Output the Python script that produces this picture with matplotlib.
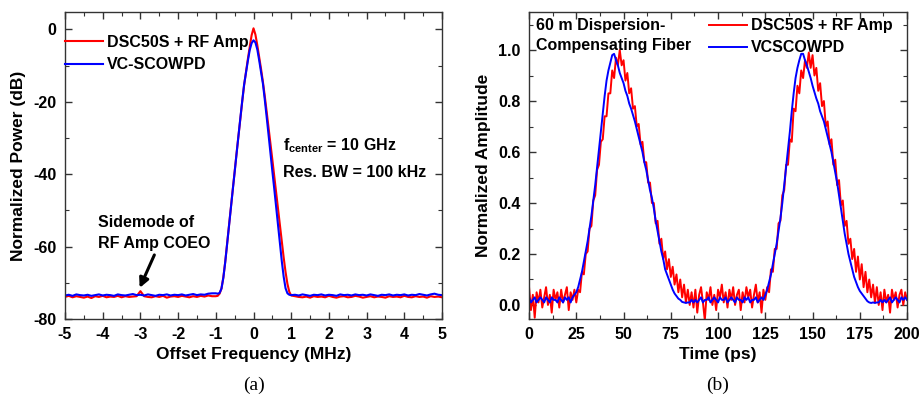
import numpy as np
import matplotlib
matplotlib.use("Agg")
import matplotlib.pyplot as plt
from matplotlib.ticker import MultipleLocator, FormatStrFormatter

plt.rcParams['font.family'] = ['Liberation Sans', 'DejaVu Sans']
plt.rcParams['font.weight'] = 'bold'
plt.rcParams['axes.unicode_minus'] = False
plt.rcParams['mathtext.fontset'] = 'custom'
plt.rcParams['mathtext.bf'] = 'Liberation Sans:bold'
plt.rcParams['mathtext.rm'] = 'Liberation Sans:bold'

RED = '#ff0000'
BLUE = '#0000ff'

# ---- (a) RF spectrum ----
freq_left = np.round(np.arange(-5.0, -1.05, 0.1), 2)      # -5.0 .. -1.1
freq_mid = np.round(np.arange(-1.0, 1.001, 0.05), 2)      # -1.0 .. 1.0
freq_right = np.round(np.arange(1.1, 5.001, 0.1), 2)      # 1.1 .. 5.0
freq = np.concatenate([freq_left, freq_mid, freq_right])

dsc_floor_left = [
    -73.9, -73.6, -74.0, -73.7, -73.9, -74.1, -73.8, -74.2, -73.7, -73.9,
    -73.6, -74.0, -73.8, -73.9, -73.6, -74.0, -73.7, -73.9, -73.8, -73.7,
    -72.3, -73.7, -73.9, -74.0, -73.7, -73.9, -73.6, -74.1, -73.8, -73.7,
    -73.9, -73.6, -73.8, -74.0, -73.7, -73.9, -73.6, -73.8, -73.5, -73.7,
]
dsc_peak = [
    -73.7, -73.6, -73.0, -71.6, -68.5, -64.2, -59.2, -54.2, -49.2, -44.2,
    -39.3, -34.3, -29.5, -24.8, -20.0, -15.5, -11.8, -8.2, -4.8, -1.6,
    0.3,
    -1.4, -4.3, -7.6, -10.9, -14.5, -18.5, -22.8, -27.2, -31.6, -36.0,
    -40.5, -45.0, -49.5, -54.0, -58.5, -63.0, -67.0, -70.3, -72.5, -73.5,
]
dsc_floor_right = [
    -73.7, -73.9, -74.0, -73.8, -74.1, -73.7, -73.9, -73.8, -74.0, -73.6,
    -73.9, -74.1, -73.8, -73.7, -74.0, -73.9, -73.6, -73.8, -74.1, -73.9,
    -73.7, -74.0, -73.8, -73.9, -74.1, -73.7, -73.9, -73.8, -74.0, -73.6,
    -73.9, -74.0, -73.7, -73.9, -73.8, -74.1, -73.7, -73.9, -73.8, -74.0,
]
vc_floor_left = [
    -73.5, -73.3, -73.6, -73.2, -73.4, -73.5, -73.3, -73.6, -73.4, -73.2,
    -73.5, -73.3, -73.4, -73.6, -73.2, -73.4, -73.5, -73.3, -73.1, -73.4,
    -73.3, -73.5, -73.2, -73.4, -73.6, -73.3, -73.4, -73.2, -73.5, -73.3,
    -73.4, -73.2, -73.5, -73.3, -73.1, -73.4, -73.2, -73.3, -73.0, -72.9,
]
vc_peak = [
    -72.9, -73.0, -72.8, -71.6, -68.6, -64.3, -59.3, -54.3, -49.3, -44.3,
    -39.4, -34.4, -29.5, -24.6, -19.8, -15.3, -12.0, -8.7, -5.7, -3.8,
    -3.0,
    -3.6, -5.5, -8.5, -11.8, -15.0, -19.5, -24.3, -29.2, -34.2, -39.2,
    -44.0, -49.0, -54.0, -59.0, -64.0, -68.3, -71.5, -72.9, -73.3, -73.4,
]
vc_floor_right = [
    -73.3, -73.5, -73.2, -73.4, -73.6, -73.3, -73.4, -73.2, -73.5, -73.3,
    -73.4, -73.6, -73.2, -73.4, -73.3, -73.5, -73.2, -73.4, -73.3, -73.5,
    -73.2, -73.4, -73.6, -73.3, -73.4, -73.2, -73.5, -73.3, -73.4, -73.2,
    -73.5, -73.3, -73.4, -73.1, -73.3, -73.5, -73.2, -73.0, -73.3, -73.4,
]
dsc_power = np.array(dsc_floor_left + dsc_peak + dsc_floor_right)
vc_power = np.array(vc_floor_left + vc_peak + vc_floor_right)

# ---- (b) pulse trains after 60 m DCF ----
time_ps = np.arange(0, 201, 1)

dsc_amp = [
    # 0..25
    0.07, -0.02, 0.04, -0.05, 0.05, 0.01, 0.06, -0.01, 0.03, 0.07,
    0.00, 0.04, -0.03, 0.06, 0.02, 0.05, -0.01, 0.06, 0.01, 0.04,
    0.07, -0.02, 0.05, 0.02, 0.06, 0.01,
    # 26..85
    0.06, 0.05, 0.13, 0.12, 0.20, 0.21, 0.30, 0.31, 0.41, 0.43,
    0.53, 0.55, 0.64, 0.65, 0.74, 0.74, 0.83, 0.83, 0.92, 0.89,
    0.97, 0.94, 1.00, 0.94, 0.96, 0.88, 0.91, 0.83, 0.85, 0.77,
    0.78, 0.70, 0.71, 0.63, 0.64, 0.56, 0.56, 0.48, 0.48, 0.40,
    0.40, 0.32, 0.33, 0.24, 0.26, 0.18, 0.21, 0.14, 0.18, 0.11,
    0.15, 0.08, 0.12, 0.05, 0.10, 0.03, 0.08, 0.01, 0.06, 0.00,
    # 86..125
    0.05, -0.01, 0.06, -0.03, 0.04, 0.07, 0.01, -0.06, 0.05, 0.02,
    0.07, 0.00, 0.04, -0.02, 0.06, 0.03, 0.08, 0.01, 0.05, -0.01,
    0.06, 0.02, 0.07, 0.00, 0.04, 0.06, -0.02, 0.05, 0.01, 0.07,
    0.03, 0.06, -0.01, 0.04, 0.08, 0.01, 0.05, -0.03, 0.06, 0.02,
    # 126..185
    0.07, 0.05, 0.14, 0.13, 0.22, 0.22, 0.32, 0.33, 0.43, 0.45,
    0.55, 0.55, 0.65, 0.64, 0.77, 0.76, 0.86, 0.83, 0.92, 0.89,
    0.96, 0.93, 0.99, 0.93, 0.98, 0.90, 0.93, 0.84, 0.87, 0.78,
    0.80, 0.70, 0.72, 0.63, 0.65, 0.55, 0.57, 0.47, 0.49, 0.39,
    0.41, 0.31, 0.33, 0.24, 0.26, 0.18, 0.22, 0.13, 0.19, 0.10,
    0.16, 0.07, 0.13, 0.05, 0.10, 0.03, 0.08, 0.01, 0.07, 0.00,
    # 186..200
    0.05, -0.02, 0.06, 0.01, 0.04, -0.03, 0.06, 0.02, 0.05, -0.01,
    0.04, 0.06, 0.00, 0.05, 0.02,
]
vc_amp = [
    # 0..24
    0.03, 0.01, 0.02, 0.03, 0.01, 0.02, 0.03, 0.02, 0.01, 0.03,
    0.02, 0.01, 0.03, 0.02, 0.02, 0.01, 0.03, 0.02, 0.01, 0.03,
    0.02, 0.03, 0.01, 0.03, 0.04,
    # 25..84
    0.05, 0.07, 0.10, 0.13, 0.17, 0.21, 0.25, 0.30, 0.35, 0.41,
    0.47, 0.54, 0.61, 0.68, 0.75, 0.82, 0.88, 0.92, 0.95, 0.98,
    0.985, 0.96, 0.94, 0.91, 0.89, 0.87, 0.84, 0.82, 0.79, 0.77,
    0.745, 0.72, 0.69, 0.66, 0.63, 0.60, 0.56, 0.53, 0.49, 0.45,
    0.42, 0.38, 0.33, 0.29, 0.25, 0.21, 0.18, 0.14, 0.12, 0.10,
    0.08, 0.06, 0.045, 0.035, 0.025, 0.02, 0.012, 0.01, 0.008, 0.01,
    # 85..124
    0.01, 0.02, 0.01, 0.02, 0.01, 0.02, 0.03, 0.01, 0.02, 0.02,
    0.03, 0.01, 0.02, 0.03, 0.02, 0.01, 0.03, 0.02, 0.02, 0.03,
    0.01, 0.02, 0.03, 0.02, 0.01, 0.03, 0.02, 0.02, 0.01, 0.03,
    0.02, 0.03, 0.01, 0.02, 0.02, 0.03, 0.01, 0.02, 0.03, 0.02,
    # 125..184
    0.04, 0.06, 0.09, 0.12, 0.16, 0.20, 0.24, 0.29, 0.34, 0.40,
    0.47, 0.54, 0.61, 0.68, 0.76, 0.83, 0.89, 0.93, 0.96, 0.985,
    0.985, 0.96, 0.94, 0.915, 0.89, 0.86, 0.835, 0.81, 0.79, 0.76,
    0.74, 0.72, 0.69, 0.66, 0.63, 0.60, 0.56, 0.52, 0.48, 0.43,
    0.38, 0.33, 0.28, 0.24, 0.20, 0.17, 0.14, 0.11, 0.09, 0.07,
    0.055, 0.045, 0.035, 0.025, 0.015, 0.01, 0.008, 0.01, 0.008, 0.01,
    # 185..200
    0.01, 0.02, 0.01, 0.02, 0.01, 0.02, 0.03, 0.01, 0.02, 0.03,
    0.02, 0.01, 0.03, 0.02, 0.03, 0.02,
]

FS_TICK = 11.5
FS_LABEL = 12.5
FS_TEXT = 11.5


def style_axes(ax):
    for s in ax.spines.values():
        s.set_linewidth(1.0)
        s.set_color('#333333')
    ax.tick_params(which='both', direction='in', top=True, right=True,
                   labelsize=FS_TICK, pad=6, color='#333333')
    ax.tick_params(which='major', length=5, width=1.0)
    ax.tick_params(which='minor', length=3, width=0.8)
    for lab in ax.get_xticklabels() + ax.get_yticklabels():
        lab.set_fontweight('bold')


fig = plt.figure(figsize=(9.22, 4.05), dpi=100)
ax1 = fig.add_axes([0.0705, 0.2123, 0.4089, 0.758])
ax2 = fig.add_axes([0.5738, 0.2123, 0.410, 0.758])

# panel a
ax1.plot(freq, dsc_power, color=RED, lw=1.5, label='DSC50S + RF Amp')
ax1.plot(freq, vc_power, color=BLUE, lw=1.5, label='VC-SCOWPD')
ax1.set_xlim(-5, 5)
ax1.set_ylim(-80, 4.8)
ax1.xaxis.set_major_locator(MultipleLocator(1))
ax1.xaxis.set_minor_locator(MultipleLocator(0.5))
ax1.yaxis.set_major_locator(MultipleLocator(20))
ax1.yaxis.set_minor_locator(MultipleLocator(10))
style_axes(ax1)
ax1.set_xlabel('Offset Frequency (MHz)', fontsize=FS_LABEL, fontweight='bold', labelpad=3)
ax1.set_ylabel('Normalized Power (dB)', fontsize=FS_LABEL, fontweight='bold', labelpad=5)
leg1 = ax1.legend(loc='upper left', bbox_to_anchor=(0.0, 0.925), frameon=False,
                  fontsize=FS_TEXT, borderpad=0, borderaxespad=0, handlelength=2.35,
                  handletextpad=0.3, labelspacing=0.45)
for t in leg1.get_texts():
    t.set_fontweight('bold')

ax1.text(0.78, -32.2, r'f$_{\mathbf{center}}$ = 10 GHz', fontsize=FS_TEXT,
         fontweight='bold', va='center', ha='left')
ax1.text(0.78, -39.6, 'Res. BW = 100 kHz', fontsize=FS_TEXT,
         fontweight='bold', va='center', ha='left')
ax1.text(-4.12, -53.3, 'Sidemode of', fontsize=FS_TEXT, fontweight='bold',
         va='center', ha='left')
ax1.text(-4.12, -59.1, 'RF Amp COEO', fontsize=FS_TEXT, fontweight='bold',
         va='center', ha='left')
ax1.annotate('', xy=(-3.02, -71.4), xytext=(-2.63, -62.3),
             arrowprops=dict(arrowstyle='-|>', color='black', lw=2.2,
                             mutation_scale=14, shrinkA=0, shrinkB=0))

# panel b
ax2.plot(time_ps, dsc_amp, color=RED, lw=1.4, label='DSC50S + RF Amp')
ax2.plot(time_ps, vc_amp, color=BLUE, lw=1.4, label='VCSCOWPD')
ax2.set_xlim(0, 200)
ax2.set_ylim(-0.055, 1.149)
ax2.xaxis.set_major_locator(MultipleLocator(25))
ax2.xaxis.set_minor_locator(MultipleLocator(12.5))
ax2.yaxis.set_major_locator(MultipleLocator(0.2))
ax2.yaxis.set_minor_locator(MultipleLocator(0.1))
ax2.yaxis.set_major_formatter(FormatStrFormatter('%.1f'))
style_axes(ax2)
ax2.set_xlabel('Time (ps)', fontsize=FS_LABEL, fontweight='bold', labelpad=3)
ax2.set_ylabel('Normalized Amplitude', fontsize=FS_LABEL, fontweight='bold', labelpad=5)
leg2 = ax2.legend(loc='upper left', bbox_to_anchor=(0.476, 0.98), frameon=False,
                  fontsize=FS_TEXT, borderpad=0, borderaxespad=0, handlelength=2.35,
                  handletextpad=0.3, labelspacing=0.45)
for t in leg2.get_texts():
    t.set_fontweight('bold')
ax2.text(3.7, 1.098, '60 m Dispersion-', fontsize=FS_TEXT, fontweight='bold',
         va='center', ha='left')
ax2.text(3.7, 1.016, 'Compensating Fiber', fontsize=FS_TEXT, fontweight='bold',
         va='center', ha='left')

# captions
fig.text(253.5 / 922, 1 - 385 / 405, '(a)', family=['Liberation Serif', 'DejaVu Serif'],
         fontweight='normal', fontsize=14, ha='center', va='center')
fig.text(718 / 922, 1 - 385 / 405, '(b)', family=['Liberation Serif', 'DejaVu Serif'],
         fontweight='normal', fontsize=14, ha='center', va='center')

fig.savefig('out.png', dpi=100)
